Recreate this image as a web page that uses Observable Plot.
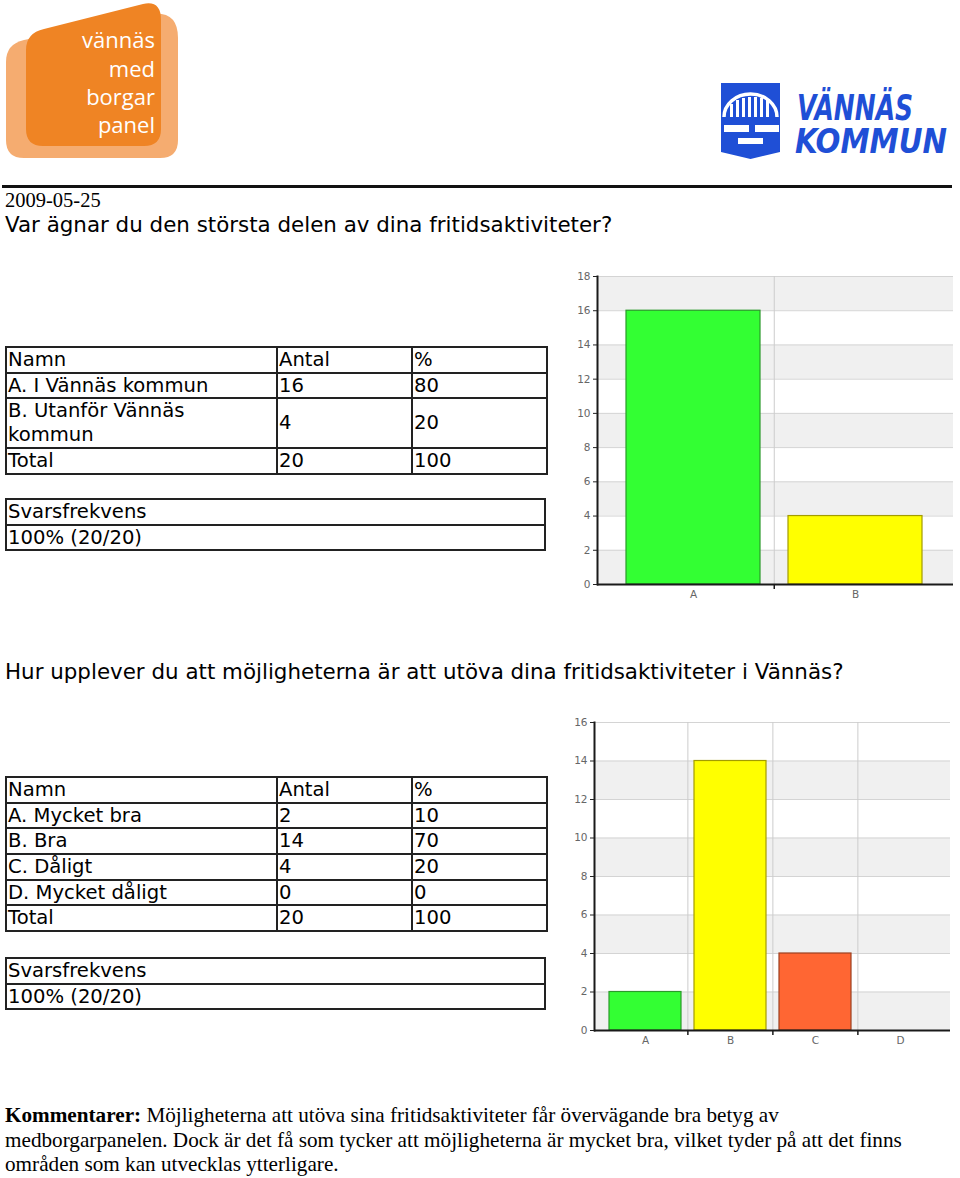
<!DOCTYPE html>
<html><head><meta charset="utf-8">
<script src="https://cdn.jsdelivr.net/npm/d3@7"></script>
<script src="https://cdn.jsdelivr.net/npm/@observablehq/plot@0.6"></script>
<style>
body{margin:0;background:#fff;}
#page{position:relative;width:960px;height:1178px;overflow:hidden;background:#fff;}
.abs{position:absolute;}
.verd{font-family:"DejaVu Sans",Verdana,sans-serif;font-size:21.4px;color:#000;white-space:nowrap;}
.serif{font-family:"Liberation Serif","Times New Roman",serif;font-size:20.5px;color:#000;}
table.t{border-collapse:collapse;table-layout:fixed;font-family:"DejaVu Sans",Verdana,sans-serif;font-size:19.6px;}
table.t td{border:2px solid #222;padding:0 0 0 1px;line-height:22px;height:23.7px;vertical-align:middle;overflow:hidden;}
table.t td.two{line-height:24px;height:47px;padding-right:10px;}
</style></head>
<body>
<div id="page">
  <!-- left logo -->
  <svg class="abs" style="left:0;top:0" width="182" height="162" viewBox="0 0 182 162">
    <path d="M6 62 Q6 44 24 40 L150 14 Q178 10 178 38 L178 140 Q178 158 160 158 L24 158 Q6 158 6 140 Z" fill="#f5ac70"/>
    <path d="M26 50 Q26 33 44 29 L143 4 Q161 0 161 20 L161 129 Q161 146 144 146 L43 146 Q26 146 26 129 Z" fill="#ef8424"/>
    <g fill="#fff" font-family="'Open Sans',Lato,sans-serif" font-size="22" text-anchor="end">
      <text x="155" y="48">vännäs</text>
      <text x="155" y="77">med</text>
      <text x="155" y="105">borgar</text>
      <text x="155" y="133">panel</text>
    </g>
  </svg>
  <!-- right logo -->
  <svg class="abs" style="left:715px;top:80px" width="240" height="82" viewBox="0 0 240 82">
    <path d="M6 3 H65 V72 L35.5 79 L6 72 Z" fill="#1f4fd6"/>
    <path d="M9 37 A26.5 23 0 0 1 62 37" fill="none" stroke="#fff" stroke-width="3.5"/>
    <g fill="#fff">
      <rect x="15" y="24" width="3" height="13"/><rect x="21" y="20" width="3" height="17"/>
      <rect x="27" y="18" width="3" height="19"/><rect x="33" y="17" width="3" height="20"/>
      <rect x="39" y="17" width="3" height="20"/><rect x="45" y="18" width="3" height="19"/>
      <rect x="51" y="20" width="3" height="17"/>
      <rect x="9" y="45" width="25" height="7"/><rect x="40" y="45" width="24" height="7"/>
      <rect x="23" y="58" width="25" height="6"/>
    </g>
    <g fill="#1f4fd6" font-family="'DejaVu Sans Condensed','DejaVu Sans',sans-serif" font-weight="bold" font-style="italic">
      <text x="82" y="40" font-size="35" textLength="116" lengthAdjust="spacingAndGlyphs">VÄNNÄS</text>
      <text x="80" y="73" font-size="33" textLength="152" lengthAdjust="spacingAndGlyphs">KOMMUN</text>
    </g>
  </svg>
  <div class="abs" style="left:2px;top:185px;width:950px;height:3px;background:#111"></div>
  <div class="abs serif" id="date" style="left:5px;top:188px;line-height:24px"></div>
  <div class="abs verd" id="q1title" style="left:5px;top:211px;line-height:28px"></div>
  <div class="abs" id="q1table" style="left:5px;top:346px"></div>
  <div class="abs" id="q1rate" style="left:5px;top:498px"></div>
  <div class="abs" id="chart1" style="left:560px;top:265px"></div>
  <div class="abs verd" id="q2title" style="left:5px;top:658px;line-height:28px"></div>
  <div class="abs" id="q2table" style="left:5px;top:776px"></div>
  <div class="abs" id="q2rate" style="left:5px;top:957px"></div>
  <div class="abs" id="chart2" style="left:560px;top:712px"></div>
  <div class="abs serif" id="comment" style="left:5px;top:1103px;width:950px;line-height:24.5px;font-size:21.2px"></div>
</div>
<script>
// ---------- data ----------
const surveyDate = "2009-05-25";
const q1Title = "Var ägnar du den största delen av dina fritidsaktiviteter?";
const q1Categories = ["A", "B"];
const q1Names = ["A. I Vännäs kommun", "B. Utanför Vännäs kommun"];
const q1Counts = [16, 4];
const q1Percents = [80, 20];
const q1Total = [20, 100];
const q1YTicks = [0, 2, 4, 6, 8, 10, 12, 14, 16, 18];

const q2Title = "Hur upplever du att möjligheterna är att utöva dina fritidsaktiviteter i Vännäs?";
const q2Categories = ["A", "B", "C", "D"];
const q2Names = ["A. Mycket bra", "B. Bra", "C. Dåligt", "D. Mycket dåligt"];
const q2Counts = [2, 14, 4, 0];
const q2Percents = [10, 70, 20, 0];
const q2Total = [20, 100];
const q2YTicks = [0, 2, 4, 6, 8, 10, 12, 14, 16];

const tableHeader = ["Namn", "Antal", "%"];
const rateLabel = "Svarsfrekvens";
const q1Rate = "100% (20/20)";
const q2Rate = "100% (20/20)";
const commentLabel = "Kommentarer:";
const commentLines = [
  "Möjligheterna att utöva sina fritidsaktiviteter får övervägande bra betyg av",
  "medborgarpanelen. Dock är det få som tycker att möjligheterna är mycket bra, vilket tyder på att det finns",
  "områden som kan utvecklas ytterligare."
];

// ---------- styles ----------
const barFill = {A: "#33ff33", B: "#ffff00", C: "#ff6633", D: "#3366ff"};
const barStroke = {A: "#2a9a2a", B: "#a39c00", C: "#9c4020", D: "#22449a"};

// ---------- text ----------
document.getElementById("date").textContent = surveyDate;
document.getElementById("q1title").textContent = q1Title;
document.getElementById("q2title").textContent = q2Title;
const cm = document.getElementById("comment");
const b = document.createElement("b"); b.textContent = commentLabel; cm.appendChild(b);
commentLines.forEach((l, i) => {
  cm.appendChild(document.createTextNode((i === 0 ? " " : "") + l));
  if (i < commentLines.length - 1) cm.appendChild(document.createElement("br"));
});

function buildTable(target, names, counts, percents, total, twoLine) {
  const t = document.createElement("table"); t.className = "t";
  const cg = document.createElement("colgroup");
  [271, 135, 135].forEach(w => { const c = document.createElement("col"); c.style.width = w + "px"; cg.appendChild(c); });
  t.appendChild(cg);
  const rows = [tableHeader].concat(names.map((n, i) => [n, counts[i], percents[i]]), [["Total", total[0], total[1]]]);
  rows.forEach((r, ri) => {
    const tr = document.createElement("tr");
    r.forEach((v, ci) => {
      const td = document.createElement("td"); td.textContent = v;
      if (twoLine && twoLine.includes(ri)) td.className = "two";
      tr.appendChild(td);
    });
    t.appendChild(tr);
  });
  t.style.width = "541px";
  document.getElementById(target).appendChild(t);
}
function buildRate(target, rate) {
  const t = document.createElement("table"); t.className = "t"; t.style.width = "541px";
  [rateLabel, rate].forEach(v => {
    const tr = document.createElement("tr"); const td = document.createElement("td");
    td.textContent = v; tr.appendChild(td); t.appendChild(tr);
  });
  document.getElementById(target).appendChild(t);
}
buildTable("q1table", q1Names, q1Counts, q1Percents, q1Total, [2]);
buildRate("q1rate", q1Rate);
buildTable("q2table", q2Names, q2Counts, q2Percents, q2Total, []);
buildRate("q2rate", q2Rate);

// ---------- charts ----------
function barChart({cats, counts, ticks, width, height, margin, inset, padding}) {
  const data = cats.map((c, i) => ({cat: c, value: counts[i]}));
  const innerW = width - margin.left - margin.right - inset.left - inset.right;
  const step = innerW / cats.length;
  const stripes = ticks.slice(0, -1).map((t, i) => ({y1: t, y2: ticks[i + 1], i})).filter(d => d.i % 2 === 0);
  const y0 = ticks[0];
  return Plot.plot({
    width, height,
    marginLeft: margin.left, marginRight: margin.right, marginTop: margin.top, marginBottom: margin.bottom,
    x: {type: "band", domain: cats, paddingInner: padding, paddingOuter: padding / 2,
        insetLeft: inset.left, insetRight: inset.right, axis: null, label: null},
    y: {domain: [ticks[0], ticks[ticks.length - 1]], axis: null, label: null},
    color: {type: "identity"},
    style: {fontFamily: "'DejaVu Sans', Verdana, sans-serif", fontSize: "10.5px", background: "transparent", overflow: "visible"},
    marks: [
      Plot.rect(stripes, {y1: "y1", y2: "y2", fill: "#f0f0f0"}),
      Plot.gridY(ticks, {stroke: "#d4d4d4", strokeOpacity: 1}),
      Plot.ruleX(cats.slice(1), {x: d => d, dx: -step / 2, stroke: "#cccccc"}),
      Plot.barY(data.filter(d => d.value > 0), {x: "cat", y: "value", fill: d => barFill[d.cat], stroke: d => barStroke[d.cat], strokeWidth: 1.2}),
      Plot.ruleY([y0], {stroke: "#1a1a1a", strokeWidth: 2}),
      Plot.frame({anchor: "left", stroke: "#1a1a1a", strokeWidth: 2}),
      Plot.axisY(ticks, {tickSize: 4, tickPadding: 3, stroke: "#222", fill: "#666", label: null}),
      Plot.axisX(cats, {tickSize: 0, tickPadding: 6, fill: "#666", label: null}),
      Plot.ruleX(cats.slice(1), {x: d => d, dx: -step / 2, y1: y0, y2: y0, insetBottom: -5, stroke: "#1a1a1a", strokeWidth: 1.5})
    ]
  });
}

document.getElementById("chart1").appendChild(barChart({
  cats: q1Categories, counts: q1Counts, ticks: q1YTicks, width: 400, height: 340,
  margin: {left: 37, right: 7, top: 11, bottom: 21}, inset: {left: 15, right: 16}, padding: 0.17
}));
document.getElementById("chart2").appendChild(barChart({
  cats: q2Categories, counts: q2Counts, ticks: q2YTicks, width: 400, height: 340,
  margin: {left: 34, right: 10, top: 10, bottom: 22}, inset: {left: 8, right: 7}, padding: 0.156
}));
</script>
</body></html>
